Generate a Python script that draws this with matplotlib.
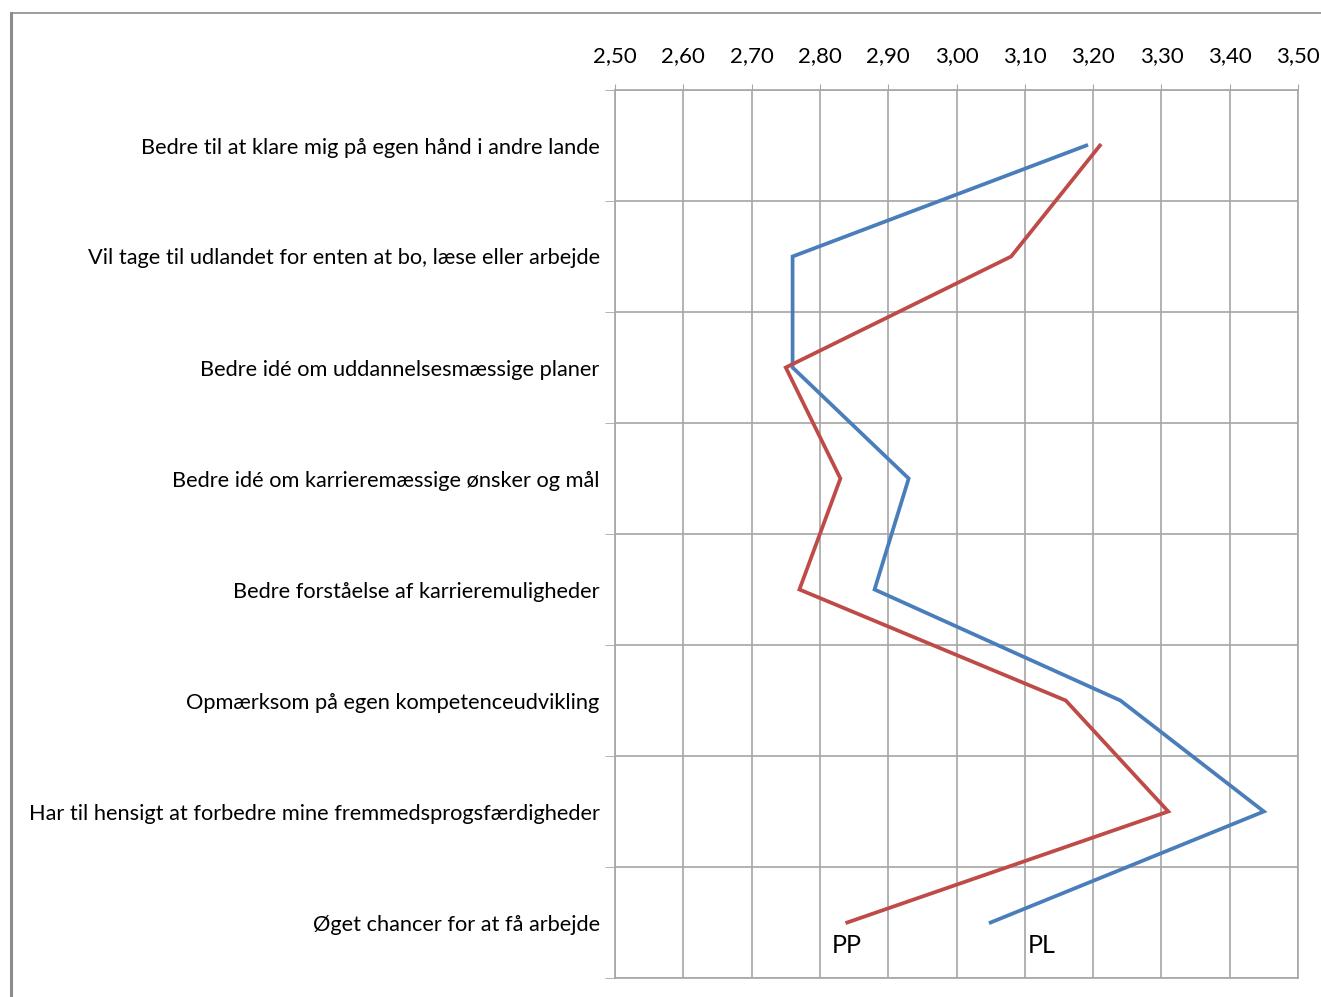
import numpy as np
import matplotlib.pyplot as plt
from matplotlib.lines import Line2D

plt.rcParams['font.family'] = ['Lato', 'DejaVu Sans']

# Data
categories = [
    'Bedre til at klare mig på egen hånd i andre lande',
    'Vil tage til udlandet for enten at bo, læse eller arbejde',
    'Bedre idé om uddannelsesmæssige planer',
    'Bedre idé om karrieremæssige ønsker og mål',
    'Bedre forståelse af karrieremuligheder',
    'Opmærksom på egen kompetenceudvikling',
    'Har til hensigt at forbedre mine fremmedsprogsfærdigheder',
    'Øget chancer for at få arbejde',
]
pl_values = [3.19, 2.76, 2.76, 2.93, 2.88, 3.24, 3.45, 3.05]
pp_values = [3.21, 3.08, 2.75, 2.83, 2.77, 3.16, 3.31, 2.84]
x_ticks = [2.5, 2.6, 2.7, 2.8, 2.9, 3.0, 3.1, 3.2, 3.3, 3.4, 3.5]
tick_labels = [f'{v:.2f}'.replace('.', ',') for v in x_ticks]

blue = '#4a7ebb'
red = '#be4b48'
grid_col = '#a6a6a6'

fig = plt.figure(figsize=(13.21, 9.97), dpi=100)
ax = fig.add_axes([615 / 1321, 1 - 978 / 997, 683 / 1321, 888 / 997])

y = np.arange(len(categories))
ax.plot(pl_values, y, color=blue, lw=2.7, solid_joinstyle='miter')
ax.plot(pp_values, y, color=red, lw=2.7, solid_joinstyle='miter')

ax.set_xlim(2.5, 3.5)
ax.set_ylim(len(categories) - 0.5, -0.5)

ax.xaxis.tick_top()
ax.set_xticks(x_ticks)
ax.set_xticklabels(tick_labels, fontsize=16)
ax.tick_params(axis='x', direction='out', length=4, color=grid_col, pad=13)

ax.set_yticks(y)
ax.set_yticklabels(categories, fontsize=15.7)
ax.tick_params(axis='y', which='major', length=0, pad=11)
ax.set_yticks(np.arange(len(categories) + 1) - 0.5, minor=True)
ax.tick_params(axis='y', which='minor', direction='out', length=7, color=grid_col)

ax.grid(axis='x', which='major', color=grid_col, lw=1.2)
ax.grid(axis='y', which='minor', color=grid_col, lw=1.2)
for s in ax.spines.values():
    s.set_color(grid_col)
    s.set_linewidth(1.2)

# series names next to the last points
ax.text(pp_values[-1], y[-1] + 0.1, 'PP', fontsize=18, va='top', ha='center')
ax.text(pl_values[-1] + 0.075, y[-1] + 0.1, 'PL', fontsize=18, va='top', ha='center')

# outer frame
fig.add_artist(Line2D([11 / 1321, 11 / 1321], [0, 1 - 13 / 997], color='#8c8c8c', lw=2.2))
fig.add_artist(Line2D([11 / 1321, 1], [1 - 13 / 997, 1 - 13 / 997], color='#8c8c8c', lw=1.2))

fig.savefig('out.png', dpi=100)
